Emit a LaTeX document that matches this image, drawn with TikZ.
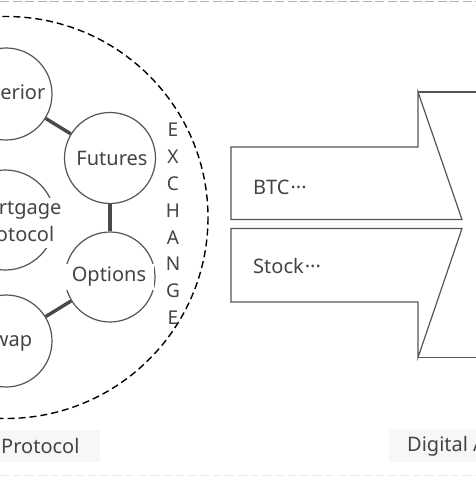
\documentclass[tikz,border=0pt]{standalone}
\usepackage{fontspec}
\setmainfont{Noto Sans}
\definecolor{ink}{HTML}{444444}
\definecolor{edge}{HTML}{555555}
\definecolor{link}{HTML}{4A4A4A}
\definecolor{pale}{HTML}{F7F7F7}
\tikzset{
  x=1pt, y=-1pt,
  every node/.style={font=\fontsize{20}{27}\selectfont, text=ink},
  ring/.style={circle, draw=edge, line width=1.2pt, inner sep=0pt, minimum size=#1},
  lbl/.style={inner sep=0pt, align=center},
  wlbl/.style={fill=white, inner sep=2pt, align=center},
  linkline/.style={draw=link, line width=3.4pt},
  shapeline/.style={draw=edge, line width=1.2pt, line join=miter},
  letter/.style={inner sep=0pt, font=\fontsize{19}{22}\selectfont},
  tag/.style={fill=pale, inner sep=0pt, minimum height=33pt}
}
\begin{document}
\begin{tikzpicture}
\useasboundingbox (0,0) rectangle (476,477);
\clip (0,0) rectangle (476,477);
\fill[white] (0,0) rectangle (476,477);
% frame dashes
\draw[draw=black!30, line width=1pt, dash pattern=on 9pt off 3.5pt] (0,1) -- (476,1);
\draw[draw=black!8, line width=1pt, dash pattern=on 9pt off 3.5pt] (0,475.5) -- (476,475.5);
% dashed exchange boundary
\draw[black, line width=1.4pt, dash pattern=on 7pt off 4pt] (6,217.5) ellipse [x radius=202, y radius=201];
% circles
\node[ring=92pt] (sup) at (6,94) {};
\node[ring=91pt] (fut) at (110,158) {};
\node[ring=100pt] (mor) at (5,220) {};
\node[ring=90pt] (opt) at (110,277) {};
\node[ring=92pt] (swa) at (6,341) {};
\draw[linkline] (sup) -- (fut);
\draw[linkline] (fut) -- (opt);
\draw[linkline] (opt) -- (swa);
% circle labels
\node[lbl] (supt) at (5,95) {Superior};
\node[lbl] (futt) at (112,158) {Futures};
\node[wlbl, inner xsep=8pt] (mort) at (15,223) {Mortgage\\protocol};
\node[wlbl, inner xsep=8pt, inner ysep=3pt] (optt) at (109,277) {Options};
\node[lbl] (swat) at (7,342) {Swap};
% EXCHANGE column
\foreach \ch [count=\i from 0] in {E,X,C,H,A,N,G,E}{
  \node[letter] (ex\i) at (173,{130+26.8*\i}) {\ch};
}
% right side outline
\draw[shapeline] (418,92) -- (480,92);
\draw[shapeline] (418,357.5) -- (480,357.5);
% upper arrow
\draw[shapeline] (231,147) -- (418,147) -- (418,92) -- (462,219.5) -- (231,219.5) -- cycle;
% lower arrow
\draw[shapeline] (231,228.5) -- (462,228.5) -- (418,357.5) -- (418,302) -- (231,302) -- cycle;
\node[lbl, anchor=west] (btc) at (253,187) {BTC\kern1pt···};
\node[lbl, anchor=west] (stk) at (253,266) {Stock\kern1pt···};
% bottom tags
\fill[pale] (0,430) rectangle (100,462);
\node[lbl, anchor=west] (prot) at (1,446) {Protocol};
\fill[pale] (389,429) rectangle (480,462);
\node[lbl, anchor=west] (dig) at (407,446) {Digital Assets};
\end{tikzpicture}
\end{document}
